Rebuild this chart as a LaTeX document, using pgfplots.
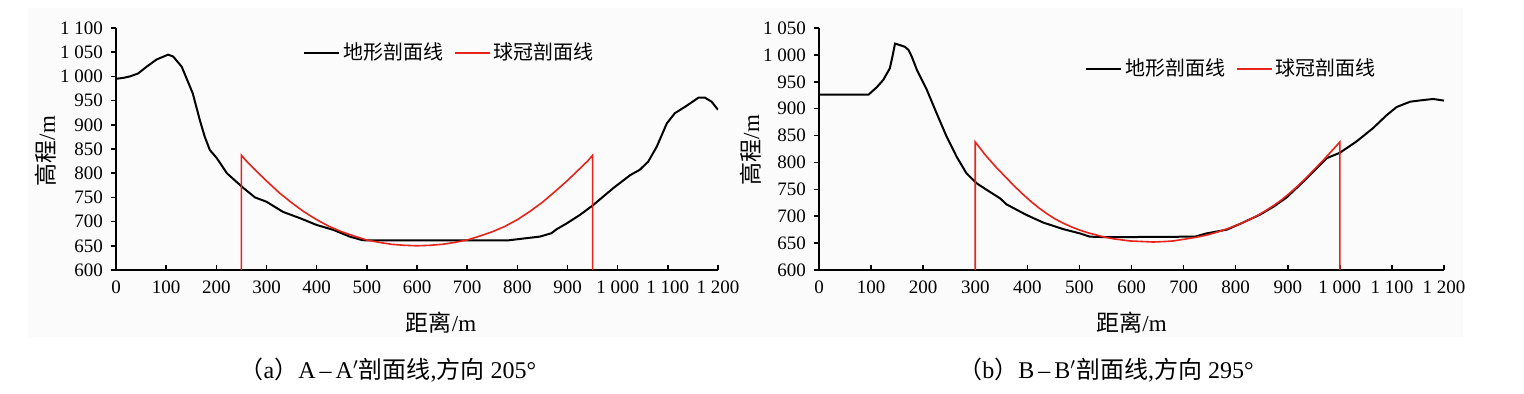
\documentclass[border=0pt]{standalone}
\usepackage{pgfplots}
\pgfplotsset{compat=1.18}
\usepackage{fontspec}
\setmainfont{Liberation Serif}
\newfontfamily\cjk{Noto Sans CJK SC}
\definecolor{capred}{RGB}{232,35,28}
\definecolor{bgc}{RGB}{251,251,251}

\pgfplotstableread{
d e
0 995
15 997
28 1000
44 1006
61 1020
81 1035
95 1041
104 1045
114 1041
131 1020
153 965
167 910
177 875
187 848
201 831
221 800
251 772
277 750
300 741
333 720
367 707
400 693
433 683
466 669
490 662
500 661
780 661
812 665
845 669
868 676
878 684
898 696
925 714
951 734
991 769
1025 796
1044 807
1061 824
1078 855
1098 903
1114 924
1137 939
1161 956
1174 956
1187 948
1200 931
}\terrA

\pgfplotstableread{
d e
250 600
250 837
260 825
275 809
300 784
325 760
350 739
375 720
400 704
425 690
450 679
475 670
500 662
525 657
550 653
575 651
600 650
625 651
650 653
675 657
700 662
725 670
750 679
775 690
800 704
825 721
850 740
875 762
900 785
925 810
940 825
950 837
950 600
}\capA

\pgfplotstableread{
d e
0 926
95 926
111 940
123 953
136 975
141 997
146 1021
156 1018
165 1015
172 1009
178 997
188 972
207 935
226 891
245 848
264 811
283 780
303 761
322 749
348 733
360 722
399 702
431 688
469 676
501 668
520 662
552 661
722 662
744 668
783 675
809 686
847 703
873 718
898 735
936 770
975 808
1000 818
1032 839
1064 864
1090 888
1109 903
1135 913
1160 916
1179 918
1200 915
}\terrB

\pgfplotstableread{
d e
300 600
300 838
320 813
341 790
357 774
373 758
390 742
405 729
420 717
437 705
453 695
469 687
485 680
501 674
517 669
533 665
549 661
565 658
581 656
597 654
620 653
642 652
665 653
680 654
700 657
725 661
745 665
763 670
785 677
809 686
825 693
841 701
857 710
873 720
889 731
905 744
920 757
936 772
952 788
968 804
984 821
1000 838
1000 600
}\capB

\pgfplotsset{
  prof/.style={
    scale only axis,
    height=121pt,
    axis lines=left,
    axis line style={-, line width=0.75pt},
    xmin=0, xmax=1200,
    xtick={0,100,...,1200},
    xticklabels={0,100,200,300,400,500,600,700,800,900,{1 000},{1 100},{1 200}},
    xtick align=inside,
    ytick align=outside,
    major tick length=2.5pt,
    tick style={line width=0.75pt, black},
    tick label style={font=\fontsize{9.5}{11}\selectfont},
    xticklabel style={yshift=-2pt},
    yticklabel style={xshift=-0.5pt},
    xlabel={{\cjk 距离}/m},
    ylabel={{\cjk 高程}/m},
    label style={font=\fontsize{11.5}{13}\selectfont},
    legend columns=2,
    legend style={draw=none, fill=none, inner sep=0pt, outer sep=0pt,
      font=\cjk\fontsize{10}{12}\selectfont, anchor=west,
      nodes={inner sep=1.5pt},
      /tikz/every even column/.append style={column sep=4pt}},
    legend image code/.code={\draw[#1] (0pt,0pt) -- (17.5pt,0pt);},
  }
}

\begin{document}
\begin{tikzpicture}
\path[use as bounding box] (0,0) rectangle (762pt,197pt);
\fill[bgc] (14pt,28.5pt) rectangle (731.5pt,193pt);

\begin{axis}[prof,
  at={(58pt,62pt)}, anchor=south west,
  width=301pt,
  ymin=600, ymax=1100,
  ytick={600,650,...,1100},
  yticklabels={600,650,700,750,800,850,900,950,{1 000},{1 050},{1 100}},
  xlabel style={at={(axis description cs:0.54,-0.219)}, anchor=center},
  ylabel style={at={(axis description cs:-0.116,0.492)}, anchor=center},
  legend style={at={(axis description cs:0.311,0.897)}},
]
\addplot[black, line width=1pt] table[x=d,y=e] {\terrA};
\addlegendentry{地形剖面线}
\addplot[capred, line width=0.8pt] table[x=d,y=e] {\capA};
\addlegendentry{球冠剖面线}
\end{axis}

\begin{axis}[prof,
  at={(409.5pt,62pt)}, anchor=south west,
  width=312.5pt,
  ymin=600, ymax=1050,
  ytick={600,650,...,1050},
  yticklabels={600,650,700,750,800,850,900,950,{1 000},{1 050}},
  xlabel style={at={(axis description cs:0.5,-0.219)}, anchor=center},
  ylabel style={at={(axis description cs:-0.110,0.496)}, anchor=center},
  legend style={at={(axis description cs:0.4256,0.831)}},
]
\addplot[black, line width=1pt] table[x=d,y=e] {\terrB};
\addlegendentry{地形剖面线}
\addplot[capred, line width=0.8pt] table[x=d,y=e] {\capB};
\addlegendentry{球冠剖面线}
\end{axis}

\node[font=\fontsize{12}{14}\selectfont, inner sep=0pt] at (194pt,12pt)
  {{\cjk （}a{\cjk ）}A\,–\,A$'${\cjk 剖面线},{\cjk 方向} 205°};
\node[font=\fontsize{12}{14}\selectfont, inner sep=0pt] at (553pt,12pt)
  {{\cjk （}b{\cjk ）}B\,–\,B$'${\cjk 剖面线},{\cjk 方向} 295°};
\end{tikzpicture}
\end{document}
